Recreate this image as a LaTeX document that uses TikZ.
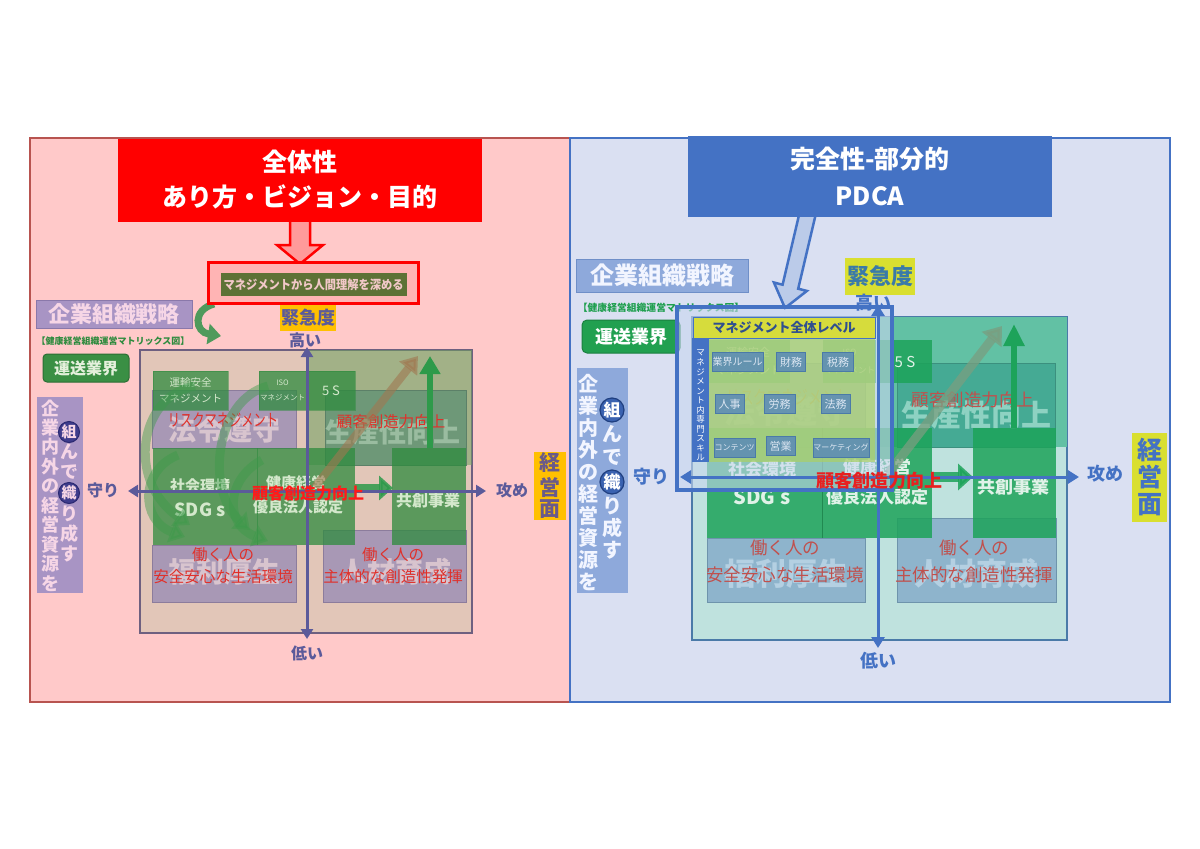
\documentclass[tikz,border=0pt]{standalone}
\usepackage{graphicx}
\usepackage{fontspec}
\setmainfont{Noto Sans CJK JP}
\usetikzlibrary{arrows.meta}
\definecolor{pinkbg}{HTML}{FFC9C9}
\definecolor{pinkbd}{HTML}{B85450}
\definecolor{bluebg}{HTML}{DAE0F2}
\definecolor{blu}{HTML}{4472C4}
\definecolor{titlered}{HTML}{FF0000}
\definecolor{arrpink}{HTML}{FF9A9A}
\definecolor{redboxfill}{HTML}{FFB4B4}
\definecolor{olivebox}{HTML}{5E7236}
\definecolor{olivet}{HTML}{F2C8C8}
\definecolor{lpur}{HTML}{A894C4}
\definecolor{lpurd}{HTML}{8A78AA}
\definecolor{pkt}{HTML}{F6D6E6}
\definecolor{grt}{HTML}{2E8B3E}
\definecolor{grbox}{HTML}{3A8F44}
\definecolor{grboxd}{HTML}{2C6E34}
\definecolor{grboxt}{HTML}{E4F0DC}
\definecolor{circp}{HTML}{3E3C8C}
\definecolor{circpd}{HTML}{2A2870}
\definecolor{amber}{HTML}{FFC000}
\definecolor{axp}{HTML}{5B5A9A}
\definecolor{axpt}{HTML}{6A5A8A}
\definecolor{tanbg}{HTML}{E2C6B8}
\definecolor{tanbd}{HTML}{6E6080}
\definecolor{ltgreen}{HTML}{6FA060}
\definecolor{qp}{HTML}{A898B5}
\definecolor{qpd}{HTML}{8C7C9C}
\definecolor{qpl}{HTML}{D8C4CE}
\definecolor{qg}{HTML}{6E9878}
\definecolor{qgd}{HTML}{5C8068}
\definecolor{qgl}{HTML}{9ABCA0}
\definecolor{redt}{HTML}{E0302A}
\definecolor{boldred}{HTML}{FF1A1A}
\definecolor{gtxt}{HTML}{D4E8CC}
\definecolor{brownarr}{HTML}{A07850}
\definecolor{garc}{HTML}{3C9A4A}
\definecolor{gup}{HTML}{2E9A4A}
\definecolor{garr}{HTML}{4F9A5C}
\definecolor{rblue}{HTML}{8EA9DB}
\definecolor{rblued}{HTML}{6F8FC8}
\definecolor{rbluet}{HTML}{F2F5FF}
\definecolor{rgreen}{HTML}{21A050}
\definecolor{rgreent}{HTML}{1F9F4F}
\definecolor{ylg}{HTML}{D9DF30}
\definecolor{ylgt}{HTML}{3A7AA8}
\definecolor{circb}{HTML}{3A62B0}
\definecolor{circbd}{HTML}{1F3F80}
\definecolor{mbg}{HTML}{BFE2DE}
\definecolor{mbd}{HTML}{4A7AA8}
\definecolor{teal}{HTML}{62C1A4}
\definecolor{qt}{HTML}{45AA94}
\definecolor{qtl}{HTML}{8ED2C2}
\definecolor{qb}{HTML}{8EB4CC}
\definecolor{qbd}{HTML}{6E94AC}
\definecolor{qbl}{HTML}{B4D0E2}
\definecolor{rg}{HTML}{1DA35A}
\definecolor{rgt}{HTML}{E0F2E8}
\definecolor{rredt}{HTML}{C0504D}
\definecolor{rbold}{HTML}{E82020}
\definecolor{frfill}{HTML}{C9D6F0}
\definecolor{innerg}{HTML}{A9D067}
\definecolor{ybar}{HTML}{D6DC3C}
\definecolor{ybart}{HTML}{2F4F8F}
\definecolor{sbox}{HTML}{5A8AB8}
\definecolor{sboxt}{HTML}{DCE6F2}
\definecolor{rdiag}{HTML}{7A9E80}
\definecolor{faderisk}{HTML}{D88A40}
\newcommand{\fz}[1]{\fontsize{#1}{#1}\selectfont}
\newcommand{\fzz}[2]{\fontsize{#1}{#2}\selectfont}
\begin{document}
\begin{tikzpicture}[x=1pt,y=-1pt,
  tx/.style={inner sep=0pt,outer sep=0pt},
  gbox/.style={inner sep=0pt,outer sep=0pt,fill=grt,fill opacity=.75,text opacity=1,draw=grt,draw opacity=.5},
  rgbox/.style={inner sep=0pt,outer sep=0pt,fill=rg,fill opacity=.85,text opacity=1},
  sbx/.style={inner sep=0pt,outer sep=0pt,fill=sbox,fill opacity=.85,text opacity=1,draw=mbd,minimum height=19,text=sboxt},
  greenarc/.style={line width=9,draw=garc,opacity=.45,-{Triangle[length=15pt,width=22pt]}},
  laxis/.style={line width=3,draw=axp,{Triangle[length=10pt,width=12pt]}-{Triangle[length=10pt,width=12pt]}},
  raxis/.style={line width=3,draw=blu,{Triangle[length=11pt,width=13pt]}-{Triangle[length=11pt,width=13pt]}}
]
\useasboundingbox (0,0) rectangle (1200,849);
\fill[white] (0,0) rectangle (1200,849);

% ================= LEFT PANEL =================
\path[fill=pinkbg,draw=pinkbd,line width=1.2] (30,138) rectangle (570,702);
\path[fill=arrpink,draw=titlered,line width=2.5] (290,214)--(310,214)--(310,245)--(323,245)--(300,264)--(277,245)--(290,245)--cycle;
\node[tx,fill=titlered,minimum width=364,minimum height=83,text=white,font=\bfseries\fzz{25}{35},align=center] (ltitle) at (300,180) {全体性\\あり方・ビジョン・目的};
\draw[line width=7,draw=garr,-{Triangle[length=13pt,width=20pt]}] (214,304) .. controls (192,310) and (195,332) .. (221,336);
\node[tx,fill=redboxfill,draw=titlered,line width=3,minimum width=210,minimum height=41] (lredbox) at (313,282.5) {};
\node[tx,fill=olivebox,minimum width=186,minimum height=23,text=olivet,font=\bfseries\fz{12.5}] (lmgmt) at (313.5,284.5) {\scalebox{0.9}[1]{マネジメントから人間理解を深める}};

\node[tx,fill=lpur,draw=lpurd,line width=1,minimum width=156,minimum height=28,text=pkt,font=\bfseries\fz{22}] (lstrat) at (114,314) {企業組織戦略};
\node[tx,text=grt,font=\bfseries\fz{9}] (lmat) at (113,341) {【健康経営組織運営マトリックス図】};
\node[tx,fill=grbox,draw=grboxd,line width=1,rounded corners=4,minimum width=86,minimum height=28,text=grboxt,font=\bfseries\fz{16}] (lind) at (86,368) {運送業界};
\path[fill=lpur] (37,397) rectangle (83,593);
\foreach \ch [count=\idx from 0] in {企,業,内,外,の,経,営,資,源,を}
  \node[tx,text=pkt,font=\bfseries\fz{18}] (lv\idx) at (50,{408+19.5*\idx}) {\ch};
\node[tx,circle,fill=circp,draw=circpd,line width=1,minimum size=21,text=pkt,font=\bfseries\fz{15}] (lkumi) at (69,432) {組};
\node[tx,circle,fill=circp,draw=circpd,line width=1,minimum size=21,text=pkt,font=\bfseries\fz{15}] (lori) at (69,493) {織};
\foreach \ch/\yy [count=\idx] in {ん/452,で/472,り/514,成/534,す/554}
  \node[tx,text=pkt,font=\bfseries\fz{18}] (lw\idx) at (69,\yy) {\ch};

\node[tx,fill=amber,minimum width=56,minimum height=26,text=axp,font=\bfseries\fz{18}] (lurg) at (308,318) {緊急度};
\node[tx,text=axp,font=\bfseries\fz{16}] (lhigh) at (305,340) {高い};

% matrix
\path[fill=tanbg,draw=tanbd,line width=1.2] (140,350) rectangle (472,633);
\path[fill=ltgreen,fill opacity=.55] (307,350) rectangle (472,465);
\path[fill=qp,draw=qpd] (152,390) rectangle (296,448);
\path[fill=qg,draw=qgd] (325,390) rectangle (466,465);
\path[fill=qp,draw=qpd] (152,545) rectangle (296,602);
\path[fill=qp,draw=qpd] (323,530) rectangle (466,602);
\node[tx,text=qpl,font=\bfseries\fz{28}] (lq1) at (224,430) {法令遵守};
\node[tx,text=qgl,font=\bfseries\fz{27}] (lq2) at (393,432) {生産性向上};
\node[tx,text=qpl,font=\bfseries\fz{28}] (lq3) at (224,572) {福利厚生};
\node[tx,text=qpl,font=\bfseries\fz{28}] (lq4) at (395,572) {人材育成};

\node[gbox,minimum width=75,minimum height=39,text=gtxt,font=\fzz{10.5}{16},align=center] (lg1) at (190.5,390.5) {運輸安全\\マネジメント};
\node[gbox,minimum width=47,minimum height=39,text=gtxt,font=\fzz{7.5}{15},align=center] (lg2) at (282.5,390.5) {ISO\\マネジメント};
\node[gbox,minimum width=48,minimum height=39,text=gtxt,font=\fz{13}] (lg3) at (331,390.5) {5 S};
\path[fill=grt,fill opacity=.75] (153,448) rectangle (355,545);
\draw[draw=grt,opacity=.6] (257,448) -- (257,545);
\path[fill=grt,fill opacity=.75] (392,448) rectangle (466,545);
\node[tx,text=gtxt,font=\bfseries\fz{15}] (lsoc) at (200,486) {社会環境};
\node[tx,text=gtxt,font=\bfseries\fz{18}] (lsdg) at (200,510) {SDG s};
\node[tx,text=gtxt,font=\bfseries\fz{15}] (lhm) at (296,483) {健康経営};
\node[tx,text=gtxt,font=\bfseries\fz{15}] (lyr) at (298,507) {優良法人認定};
\node[tx,text=gtxt,font=\bfseries\fz{16}] (lkyo) at (428,500) {共創事業};

\node[tx,text=redt,font=\fz{17}] (lrisk) at (223,420) {\scalebox{0.72}[1]{リスクマネジメント}};
\node[tx,text=redt,font=\fz{15.5}] (lcust) at (391,422) {顧客創造力向上};
\node[tx,text=redt,font=\fzz{15.5}{22},align=center] (lwork1) at (223,566) {働く人の\\安全安心な生活環境};
\node[tx,text=redt,font=\fzz{15.5}{22},align=center] (lwork2) at (393,566) {働く人の\\主体的な創造性発揮};

% arrows
\coordinate (ld1) at (315,487); \coordinate (ld2) at (418,356);
\draw[line width=8,draw=brownarr,opacity=.6,-{Triangle[length=16pt,width=22pt]}] (ld1) -- (ld2);
\coordinate (lu1) at (430,448); \coordinate (lu2) at (430,356);
\draw[line width=6,draw=gup,-{Triangle[length=18pt,width=20pt]}] (lu1) -- (lu2);
\coordinate (lr1) at (355,488); \coordinate (lr2) at (393,488);
\draw[line width=9,draw=gup,opacity=.85,-{Triangle[length=14pt,width=24pt]}] (lr1) -- (lr2);
\draw[greenarc] (195,386) .. controls (140,395) and (125,480) .. (190,525);
\draw[greenarc] (268,386) .. controls (215,400) and (205,490) .. (250,530);
\draw[greenarc] (178,455) .. controls (140,470) and (140,520) .. (185,537);
\draw[greenarc] (262,460) .. controls (225,480) and (225,525) .. (268,541);

% axes
\coordinate (lvt) at (307,347); \coordinate (lvb) at (307,639);
\coordinate (lhl) at (128,491); \coordinate (lhr) at (486,491);
\draw[laxis] (lvt) -- (lvb);
\draw[laxis] (lhl) -- (lhr);
\node[tx,text=boldred,font=\bfseries\fz{16}] (lbold) at (308,493) {顧客創造力向上};
\node[tx,text=axp,font=\bfseries\fz{16}] (lmamori) at (103,490) {守り};
\node[tx,text=axp,font=\bfseries\fz{16}] (lseme) at (512,490) {攻め};
\node[tx,text=axp,font=\bfseries\fz{16}] (llow) at (307,653) {低い};
\path[fill=amber] (534,452) rectangle (566,520);
\foreach \ch/\yy [count=\idx] in {経/463,営/487,面/509}
  \node[tx,text=axpt,font=\bfseries\fz{21}] (lkei\idx) at (550,\yy) {\ch};

% ================= RIGHT PANEL =================
\path[fill=bluebg,draw=blu,line width=1.2] (570,138) rectangle (1170,702);
\path[fill=rblue!60!white,draw=blu,line width=2.5] (800.2,210)--(815.8,214)--(798.2,288.7)--(806.9,290.9)--(785,308)--(773.9,282.5)--(782.6,284.7)--cycle;
\node[tx,fill=blu,minimum width=364,minimum height=81,text=white,font=\bfseries\fzz{25}{37},align=center] (rtitle) at (870,176.5) {完全性-部分的\\PDCA};

\node[tx,fill=rblue,draw=rblued,line width=1,minimum width=172,minimum height=33,text=rbluet,font=\bfseries\fz{24}] (rstrat) at (662,275.5) {企業組織戦略};
\node[tx,text=rgreent,font=\bfseries\fz{9.8}] (rmat) at (661,308) {【健康経営組織運営マトリックス図】};
\node[tx,fill=rgreen,draw=rgreen!80!black,line width=1,rounded corners=5,minimum width=98,minimum height=33,text=white,font=\bfseries\fz{18}] (rind) at (631,336.5) {運送業界};
\path[fill=rblue] (577,368) rectangle (628,593);
\foreach \ch [count=\idx from 0] in {企,業,内,外,の,経,営,資,源,を}
  \node[tx,text=rbluet,font=\bfseries\fz{20}] (rv\idx) at (588,{384+22*\idx}) {\ch};
\node[tx,circle,fill=circb,draw=circbd,line width=1.2,minimum size=24,text=white,font=\bfseries\fz{17}] (rkumi) at (612,410) {組};
\node[tx,circle,fill=circb,draw=circbd,line width=1.2,minimum size=24,text=white,font=\bfseries\fz{17}] (rori) at (612,482) {織};
\foreach \ch/\yy [count=\idx] in {ん/434,で/457,り/506,成/528,す/550}
  \node[tx,text=rbluet,font=\bfseries\fz{20}] (rw\idx) at (612,\yy) {\ch};

\node[tx,fill=ylg,minimum width=70,minimum height=37,text=ylgt,font=\bfseries\fz{22}] (rurg) at (880,276.5) {緊急度};

% matrix
\path[fill=mbg,draw=mbd,line width=1.2] (692,317) rectangle (1067,640);
\path[fill=teal] (878,317) rectangle (1067,447);
\path[fill=qb,draw=qbd] (707,363) rectangle (865,447);
\path[fill=qt,draw=qt!85!black] (897,363) rectangle (1055,447);
\path[fill=qb,draw=qbd] (707,538) rectangle (865,602);
\path[fill=qb,draw=qbd] (897,518) rectangle (1056,602);
\node[tx,text=qbl,font=\bfseries\fz{31}] (rq1) at (786,412) {法令遵守};
\node[tx,text=qtl,font=\bfseries\fz{30}] (rq2) at (976,415) {生産性向上};
\node[tx,text=qbl,font=\bfseries\fz{31}] (rq3) at (786,574) {福利厚生};
\node[tx,text=qbl,font=\bfseries\fz{31}] (rq4) at (976,574) {人材育成};

\node[rgbox,minimum width=83,minimum height=43,text=rgt,font=\fzz{11}{18},align=center] (rg1) at (748,361.5) {運輸安全\\マネジメント};
\node[rgbox,minimum width=53,minimum height=43,text=rgt,font=\fzz{8.5}{18},align=center] (rg2) at (849.5,361.5) {ISO\\マネジメント};
\node[rgbox,minimum width=54,minimum height=43,text=rgt,font=\fz{15}] (rg3) at (905,361.5) {5 S};
\path[fill=rg,fill opacity=.85] (707,428) rectangle (932,538);
\draw[draw=rg!70!black,opacity=.6] (822,428) -- (822,538);
\path[fill=rg,fill opacity=.85] (973,428) rectangle (1056,538);
\node[tx,text=rgt,font=\bfseries\fz{17}] (rsoc) at (762,469) {社会環境};
\node[tx,text=rgt,font=\bfseries\fz{20}] (rsdg) at (762,497) {SDG s};
\node[tx,text=rgt,font=\bfseries\fz{17}] (rhm) at (877,467) {健康経営};
\node[tx,text=rgt,font=\bfseries\fz{17}] (ryr) at (877,497) {優良法人認定};
\node[tx,text=rgt,font=\bfseries\fz{18}] (rkyo) at (1013,487) {共創事業};

\node[tx,text=faderisk,font=\fz{19}] (rrisk) at (788,397) {\scalebox{0.72}[1]{リスクマネジメント}};
\node[tx,text=rredt,font=\fz{17.5}] (rcust) at (973,400) {顧客創造力向上};
\node[tx,text=rredt,font=\fzz{17.5}{27},align=center] (rwork1) at (785,561) {働く人の\\安全安心な生活環境};
\node[tx,text=rredt,font=\fzz{17.5}{27},align=center] (rwork2) at (974,561) {働く人の\\主体的な創造性発揮};

\coordinate (rd1) at (888,474); \coordinate (rd2) at (1002,326);
\draw[line width=9,draw=rdiag,opacity=.75,-{Triangle[length=17pt,width=24pt]}] (rd1) -- (rd2);
\coordinate (ru1) at (1014,428); \coordinate (ru2) at (1014,324);
\draw[line width=6,draw=rg,-{Triangle[length=22pt,width=20pt]}] (ru1) -- (ru2);
\coordinate (rr1) at (932,477); \coordinate (rr2) at (973,477);
\draw[line width=10,draw=rg,opacity=.85,-{Triangle[length=15pt,width=26pt]}] (rr1) -- (rr2);

% management frame
\path[fill=frfill,fill opacity=.6,draw=blu,line width=4] (677,307) rectangle (892,490);
\path[fill=innerg,fill opacity=.72] (709,338) rectangle (875,462);
\node[tx,fill=ybar,draw=blu,line width=1,minimum width=182,minimum height=21,text=ybart,font=\bfseries\fz{13}] (rybar) at (784,327.5) {マネジメント全体レベル};
\path[fill=blu] (692,338) rectangle (709,462);
\foreach \ch [count=\idx from 0] in {マ,ネ,ジ,メ,ン,ト,内,専,門,ス,キ,ル}
  \node[tx,text=white,font=\fz{8.5}] (rs\idx) at (700.5,{353+9.5*\idx}) {\ch};
\node[sbx,minimum width=51,font=\fz{10}] (b1) at (737.5,362) {業界ルール};
\node[sbx,minimum width=29,font=\fz{11}] (b2) at (791,362) {財務};
\node[sbx,minimum width=31,font=\fz{11}] (b3) at (838,362) {税務};
\node[sbx,minimum width=29,font=\fz{11}] (b4) at (729.5,404) {人事};
\node[sbx,minimum width=31,font=\fz{11}] (b5) at (779.5,404) {労務};
\node[sbx,minimum width=29,font=\fz{11}] (b6) at (835.5,404) {法務};
\node[sbx,minimum width=41,font=\fz{8}] (b7) at (734.5,447.5) {コンテンツ};
\node[sbx,minimum width=29,font=\fz{11}] (b8) at (780.5,446) {営業};
\node[sbx,minimum width=56,font=\fz{8}] (b9) at (841,447.5) {マーケティング};

% axes
\coordinate (rvt) at (878,305); \coordinate (rvb) at (878,648);
\coordinate (rhl) at (680,477); \coordinate (rhr) at (1079,477);
\draw[raxis] (rvt) -- (rvb);
\draw[raxis] (rhl) -- (rhr);
\node[tx,text=blu,font=\bfseries\fz{18}] (rhigh) at (873,303) {高い};
\node[tx,text=rbold,font=\bfseries\fz{18}] (rbold) at (879,481) {顧客創造力向上};
\node[tx,text=blu,font=\bfseries\fz{18}] (rmamori) at (651,477) {守り};
\node[tx,text=blu,font=\bfseries\fz{18}] (rseme) at (1105,474) {攻め};
\node[tx,text=blu,font=\bfseries\fz{18}] (rlow) at (878,661) {低い};
\path[fill=ylg] (1132,433) rectangle (1167,522);
\foreach \ch/\yy [count=\idx] in {経/450,営/477,面/505}
  \node[tx,text=blu,font=\bfseries\fz{25}] (rkei\idx) at (1149.5,\yy) {\ch};
\end{tikzpicture}
\end{document}
